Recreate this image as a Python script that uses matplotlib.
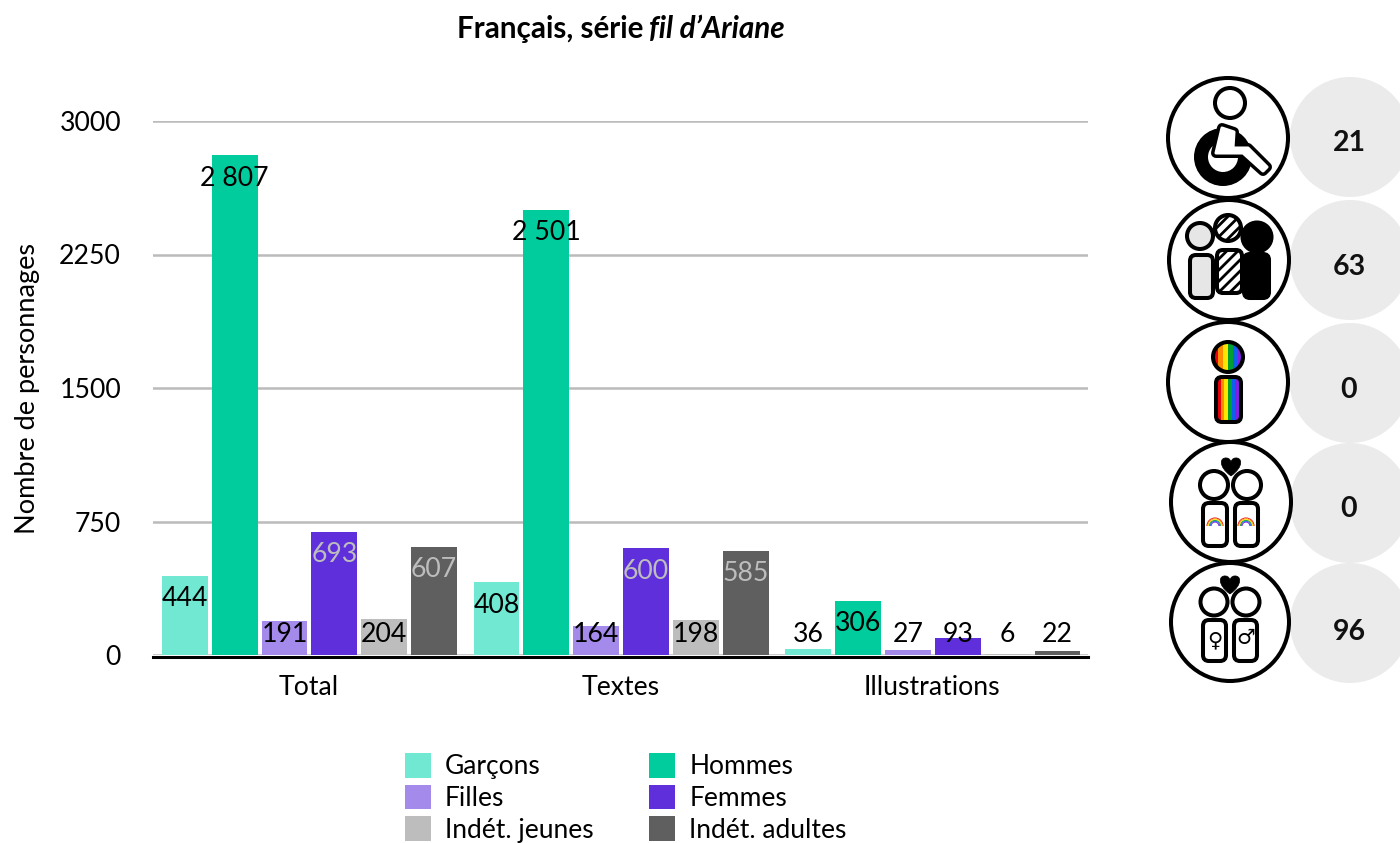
import numpy as np
import matplotlib
matplotlib.use('Agg')
import matplotlib.pyplot as plt
from matplotlib.patches import Circle, FancyBboxPatch, PathPatch, Polygon, Rectangle, Wedge
from matplotlib.path import Path

plt.rcParams['font.family'] = ['Lato', 'DejaVu Sans']
plt.rcParams['hatch.linewidth'] = 2.0

# data
groupes = ['Total', 'Textes', 'Illustrations']
series = ['Garçons', 'Hommes', 'Filles', 'Femmes', 'Indét. jeunes', 'Indét. adultes']
garcons = [444, 408, 36]
hommes = [2807, 2501, 306]
filles = [191, 164, 27]
femmes = [693, 600, 93]
jeunes = [204, 198, 6]
adultes = [607, 585, 22]
couleurs = ['#70E8D2', '#00CC9E', '#A48BEB', '#5F2FDC', '#BDBDBD', '#5F5F5F']
y_ticks = [0, 750, 1500, 2250, 3000]
compteurs = ['21', '63', '0', '0', '96']
arc_en_ciel = ['#E8000B', '#FF8C00', '#FFE600', '#00A030', '#1060F0', '#8020E0']

W, H = 1400, 843
fig = plt.figure(figsize=(14, 8.43), dpi=100)
ax = fig.add_axes([153 / W, 1 - 655 / H, 935 / W, 534 / H])

valeurs = [garcons, hommes, filles, femmes, jeunes, adultes]
x = np.arange(len(groupes))
pas = 0.16
largeur = 0.147
for i, vals in enumerate(valeurs):
    pos = x + (i - 2.5) * pas + 0.002
    ax.bar(pos, vals, largeur, color=couleurs[i], label=series[i], zorder=3)
    for p, v in zip(pos, vals):
        # label sits inside the top of the bar, but never lower than a fixed height
        sombre = i in (3, 5) and v > 200
        ax.text(p, max(v - 129, 117), f'{v:,}'.replace(',', ' '), ha='center', va='center',
                fontsize=19.2, color='#BDBDBD' if sombre else 'black', zorder=4)

ax.set_xlim(-0.5, 2.5)
ax.set_ylim(0, 3000)
ax.set_xticks(x, groupes)
ax.set_yticks(y_ticks, [str(t) for t in y_ticks])
ax.tick_params(axis='both', length=0, labelsize=19.2)
ax.tick_params(axis='x', pad=13)
ax.tick_params(axis='y', pad=23)
ax.grid(axis='y', color='#BBBBBB', lw=1.8, zorder=0)
ax.set_axisbelow(True)
for s in ['top', 'left', 'right']:
    ax.spines[s].set_visible(False)
ax.spines['bottom'].set_linewidth(2.2)
ax.spines['bottom'].set_position(('outward', 1.4))
ax.spines['bottom'].set_zorder(5)
ax.set_ylabel('Nombre de personnages', fontsize=19.5)
ax.yaxis.set_label_coords((40 - 153) / 935, 0.5)

handles, labels = ax.get_legend_handles_labels()
ordre = [0, 2, 4, 1, 3, 5]
fig.legend([handles[i] for i in ordre], [labels[i] for i in ordre], ncol=2, frameon=False,
           loc='upper left', bbox_to_anchor=(405 / W, 1 - 753 / H), borderaxespad=0, borderpad=0,
           handlelength=0.98, handleheight=1.06, labelspacing=0.2,
           handletextpad=0.53, columnspacing=2.12, prop={'size': 19})

# overlay in pixel coordinates for the title and the icons
ov = fig.add_axes([0, 0, 1, 1], facecolor='none')
ov.set_xlim(0, W)
ov.set_ylim(H, 0)
ov.axis('off')

ov.text(643, 29, 'Français, série', ha='right', va='center', fontsize=21.3, fontweight='bold')
ov.text(649, 29, 'fil d’Ariane', ha='left', va='center', fontsize=21.3, fontweight='bold', style='italic')


def rond(cx, cy, r, fc='white', lw=2.9, **kw):
    c = Circle((cx, cy), r, fc=fc, ec='black', lw=lw, **kw)
    ov.add_patch(c)
    return c


def corps(x0, y0, x1, y1, fc='white', lw=2.9, **kw):
    c = FancyBboxPatch((x0 + 5, y0 + 5), x1 - x0 - 10, y1 - y0 - 10, boxstyle='round,pad=5,rounding_size=6',
                       fc=fc, ec='black', lw=lw, **kw)
    ov.add_patch(c)
    return c


def coeur(cx, cy, s):
    verts = [(cx, cy + s), (cx - 1.5 * s, cy - 0.1 * s), (cx - 1.2 * s, cy - 1.1 * s), (cx - 0.5 * s, cy - s),
             (cx - 0.2 * s, cy - s), (cx, cy - 0.7 * s), (cx, cy - 0.5 * s),
             (cx, cy - 0.7 * s), (cx + 0.2 * s, cy - s), (cx + 0.5 * s, cy - s),
             (cx + 1.2 * s, cy - 1.1 * s), (cx + 1.5 * s, cy - 0.1 * s), (cx, cy + s)]
    codes = [Path.MOVETO] + [Path.CURVE4] * 12
    ov.add_patch(PathPatch(Path(verts, codes), fc='black', ec='black', lw=0.5))


def rayures(x0, y0, x1, y1, clip):
    # vertical rainbow stripes cut to the outline of the head or body
    w = (x1 - x0) / len(arc_en_ciel)
    for i, c in enumerate(arc_en_ciel):
        r = Rectangle((x0 + i * w, y0), w, y1 - y0, fc=c, ec='none', zorder=2)
        ov.add_patch(r)
        r.set_clip_path(clip)


def arc_ciel(cx, cy, r):
    for i, c in enumerate(arc_en_ciel):
        ov.add_patch(Wedge((cx, cy), r - i * 0.85, 180, 360, width=0.85, fc=c, ec='none', zorder=3))


# grey counters
centres_gris = [137, 260, 383, 503, 623]
y_compteurs = [143, 267, 390, 509, 632]
for cy, ty, txt in zip(centres_gris, y_compteurs, compteurs):
    ov.add_patch(Circle((1350, cy), 60, fc='#EBEBEB', ec='none'))
    ov.text(1349, ty, txt, ha='center', va='center', fontsize=20.5, fontweight='bold', color='#111111')

# wheelchair
rond(1228, 138, 60)
rond(1230, 103, 15)
ov.add_patch(Circle((1223, 157), 29, fc='black', ec='none'))
ov.add_patch(Circle((1223, 157), 15, fc='white', ec='none'))
# body drawn twice so the thick stroke gives rounded corners
corps_pts = [(1222, 128), (1234, 132), (1233, 148), (1248, 148), (1267, 167), (1263, 171),
             (1243, 153), (1216, 153)]
ov.add_patch(Polygon(corps_pts, closed=True, fc='black', ec='black', lw=7.2, joinstyle='round'))
ov.add_patch(Polygon(corps_pts, closed=True, fc='white', ec='white', lw=2.2, joinstyle='round'))

# non-binary group
rond(1229, 260, 60)
rond(1228, 228, 13, hatch='///', zorder=2)
corps(1217, 250, 1242, 293, hatch='///', zorder=2)
rond(1257, 237, 14.5, fc='black', zorder=2)
corps(1244, 254, 1269, 298, fc='black', zorder=2)
rond(1200, 236, 13, fc='#E6E6E6', zorder=3)
corps(1190, 255, 1213, 298, fc='#E6E6E6', zorder=3)

# rainbow person
rond(1228, 382, 60)
clip_tete = Circle((1228, 357), 15, transform=ov.transData)
rayures(1213, 342, 1243, 372, clip_tete)
rond(1228, 357, 15, fc='none', zorder=3)
clip_corps = Rectangle((1216, 377), 24, 43, transform=ov.transData)
rayures(1217, 377, 1239, 422, clip_corps)
corps(1216, 377, 1241, 422, fc='none', zorder=3)

# same-sex couple
rond(1231, 502, 60)
coeur(1231, 467, 9)
rond(1214, 485, 14)
rond(1247, 485, 14)
corps(1203, 503, 1227, 546)
corps(1235, 503, 1258, 546)
arc_ciel(1215, 526, 8.5)
arc_ciel(1246, 526, 8.5)

# mixed couple
rond(1230, 622, 59)
coeur(1230, 585, 9)
rond(1214, 602, 13.5)
rond(1246, 602, 13.5)
corps(1203, 620, 1226, 661)
corps(1234, 620, 1257, 661)
ov.text(1215, 640, '♀', ha='center', va='center', fontsize=15, family='DejaVu Sans')
ov.text(1246, 638, '♂', ha='center', va='center', fontsize=15, family='DejaVu Sans')

fig.savefig('out.png', dpi=100)
